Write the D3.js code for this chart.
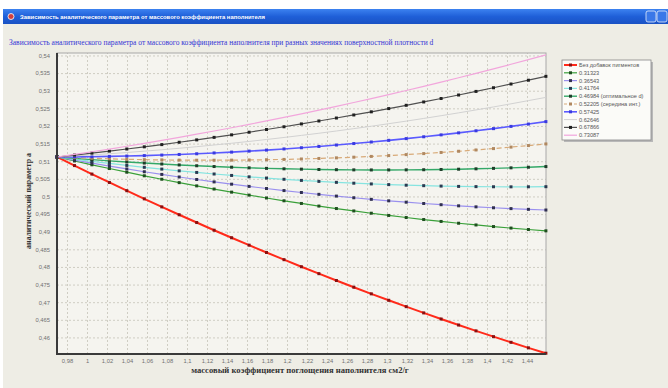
<!DOCTYPE html>
<html><head><meta charset="utf-8">
<script src="https://cdn.jsdelivr.net/npm/d3@7"></script>
<style>body{margin:0;background:#fff;}svg{display:block;}</style>
</head><body>
<svg id="c" width="668" height="388"></svg>
<script>
const windowTitle = "Зависимость аналитического параметра от массового коэффициента наполнителя";
const chartTitle = "Зависимость аналитического параметра от массового коэффициента наполнителя при разных значениях поверхностной плотности d";
const xTitle = "массовый коэффициент поглощения наполнителя см2/г";
const yTitle = "аналитический параметр a";

const xTicks = [0.98,1,1.02,1.04,1.06,1.08,1.1,1.12,1.14,1.16,1.18,1.2,1.22,1.24,1.26,1.28,1.3,1.32,1.34,1.36,1.38,1.4,1.42,1.44];
const yTicks = [0.46,0.465,0.47,0.475,0.48,0.485,0.49,0.495,0.5,0.505,0.51,0.515,0.52,0.525,0.53,0.535,0.54];

const xValues = [0.9700,0.9875,1.0049,1.0224,1.0398,1.0573,1.0748,1.0922,1.1097,1.1271,1.1446,1.1621,1.1795,1.1970,1.2144,1.2319,1.2494,1.2668,1.2843,1.3017,1.3192,1.3367,1.3541,1.3716,1.3890,1.4065,1.4240,1.4414,1.4589];

const legendNames = ["Без добавок пигментов","0.31323","0.36543","0.41764","0.46984 (оптимальное d)","0.52205 (середина инт.)","0.57425","0.62646","0.67866","0.73087"];

const noPigment = [0.51120,0.50876,0.50635,0.50397,0.50163,0.49932,0.49704,0.49480,0.49260,0.49042,0.48828,0.48618,0.48410,0.48206,0.48006,0.47809,0.47615,0.47425,0.47237,0.47054,0.46873,0.46696,0.46523,0.46352,0.46186,0.46022,0.45862,0.45705,0.45552];
const d31323 = [0.51120,0.51008,0.50898,0.50792,0.50688,0.50586,0.50488,0.50392,0.50300,0.50210,0.50122,0.50038,0.49956,0.49877,0.49801,0.49727,0.49657,0.49589,0.49524,0.49461,0.49402,0.49345,0.49291,0.49240,0.49191,0.49146,0.49103,0.49062,0.49025];
const d36543 = [0.51120,0.51031,0.50945,0.50861,0.50780,0.50701,0.50625,0.50552,0.50481,0.50413,0.50348,0.50285,0.50225,0.50167,0.50112,0.50060,0.50010,0.49963,0.49918,0.49876,0.49837,0.49800,0.49766,0.49734,0.49705,0.49679,0.49655,0.49634,0.49615];
const d41764 = [0.51120,0.51056,0.50995,0.50937,0.50880,0.50827,0.50776,0.50727,0.50681,0.50637,0.50596,0.50557,0.50521,0.50487,0.50455,0.50427,0.50400,0.50376,0.50355,0.50336,0.50319,0.50306,0.50294,0.50285,0.50279,0.50275,0.50273,0.50274,0.50277];
const d46984 = [0.51120,0.51081,0.51045,0.51010,0.50978,0.50948,0.50920,0.50894,0.50871,0.50849,0.50830,0.50812,0.50797,0.50784,0.50774,0.50765,0.50759,0.50754,0.50752,0.50752,0.50754,0.50758,0.50765,0.50773,0.50784,0.50797,0.50812,0.50829,0.50848];
const d52205 = [0.51120,0.51100,0.51082,0.51067,0.51055,0.51044,0.51037,0.51031,0.51028,0.51028,0.51030,0.51035,0.51042,0.51051,0.51063,0.51078,0.51095,0.51114,0.51136,0.51160,0.51187,0.51216,0.51248,0.51282,0.51319,0.51358,0.51400,0.51444,0.51490];
const d57425 = [0.51120,0.51123,0.51128,0.51136,0.51146,0.51159,0.51174,0.51191,0.51211,0.51234,0.51258,0.51286,0.51315,0.51348,0.51382,0.51419,0.51459,0.51501,0.51545,0.51592,0.51641,0.51693,0.51747,0.51804,0.51863,0.51924,0.51988,0.52054,0.52123];
const d62646 = [0.51120,0.51148,0.51179,0.51212,0.51247,0.51285,0.51325,0.51367,0.51412,0.51460,0.51509,0.51561,0.51616,0.51673,0.51732,0.51793,0.51857,0.51924,0.51992,0.52064,0.52137,0.52213,0.52291,0.52372,0.52455,0.52540,0.52628,0.52719,0.52811];
const d67866 = [0.51120,0.51173,0.51229,0.51286,0.51346,0.51408,0.51471,0.51537,0.51605,0.51676,0.51748,0.51822,0.51899,0.51977,0.52058,0.52141,0.52225,0.52312,0.52401,0.52493,0.52586,0.52681,0.52779,0.52878,0.52980,0.53084,0.53190,0.53298,0.53408];
const d73087 = [0.51120,0.51193,0.51268,0.51345,0.51425,0.51506,0.51591,0.51677,0.51766,0.51856,0.51950,0.52045,0.52143,0.52243,0.52345,0.52450,0.52556,0.52666,0.52777,0.52890,0.53006,0.53125,0.53245,0.53368,0.53493,0.53620,0.53750,0.53881,0.54016];

const seriesData = [noPigment,d31323,d36543,d41764,d46984,d52205,d57425,d62646,d67866,d73087];
const styles = [
  {color:"#ff2a1a", width:2, dash:null, marker:"#8a1010"},
  {color:"#3aa03a", width:1.2, dash:null, marker:"#1f4f1f"},
  {color:"#9a90ee", width:1.2, dash:null, marker:"#303050"},
  {color:"#86e4e0", width:1.2, dash:null, marker:"#2a3a50"},
  {color:"#34a868", width:1.4, dash:null, marker:"#1e3e2a"},
  {color:"#d8aa78", width:1.2, dash:"5,3", marker:"#b08860"},
  {color:"#5a5aff", width:1.6, dash:null, marker:"#3a3ae0"},
  {color:"#d2d2d2", width:1, dash:null, marker:null},
  {color:"#505050", width:1.2, dash:null, marker:"#202020"},
  {color:"#f2a6dc", width:1.2, dash:null, marker:null}
];

const svg = d3.select("#c");
// window
svg.append("rect").attr("x",3).attr("y",9).attr("width",665).attr("height",379).attr("fill","#eeede5");
const grad = svg.append("defs").append("linearGradient").attr("id","tb").attr("x1",0).attr("x2",0).attr("y1",0).attr("y2",1);
grad.append("stop").attr("offset","0").attr("stop-color","#3c82f0");
grad.append("stop").attr("offset","0.5").attr("stop-color","#1f5fd8");
grad.append("stop").attr("offset","1").attr("stop-color","#1a52c4");
svg.append("rect").attr("x",3).attr("y",9).attr("width",665).attr("height",15).attr("fill","url(#tb)");
svg.append("circle").attr("cx",11).attr("cy",16.5).attr("r",3).attr("fill","#d04040").attr("stroke","#fff").attr("stroke-width",0.8);
svg.append("text").attr("x",20).attr("y",19).attr("fill","#fff").attr("font-family","Liberation Sans, Arial, sans-serif")
  .attr("font-size",5.9).attr("font-weight","bold").text(windowTitle);
[646,657].forEach(bx=>{
  svg.append("rect").attr("x",bx).attr("y",11).attr("width",10).attr("height",11).attr("rx",2).attr("fill","#3a78e8").attr("stroke","#fff").attr("stroke-width",0.7);
});

// chart title
svg.append("text").attr("x",9).attr("y",45).attr("fill","#3535d5").attr("font-family","Liberation Serif, Times New Roman, serif")
  .attr("font-size",7.5).text(chartTitle);

const L=57,R=546,T=53,B=354;
const x = d3.scaleLinear().domain([0.97,1.459]).range([L,R]);
const y = d3.scaleLinear().domain([0.4553,0.5407]).range([B,T]);
const fmt = d => String(+d.toFixed(3)).replace(".",",");

svg.append("rect").attr("x",L).attr("y",T).attr("width",R-L).attr("height",B-T).attr("fill","#f5f4ef");

// grid
const gx = svg.append("g").attr("transform",`translate(0,${B})`)
  .call(d3.axisBottom(x).tickValues(xTicks).tickSize(-(B-T)).tickFormat(""));
gx.select(".domain").remove();
gx.selectAll("line").attr("stroke","#cfcdc3").attr("stroke-dasharray","2,2");
const gy = svg.append("g").attr("transform",`translate(${L},0)`)
  .call(d3.axisLeft(y).tickValues(yTicks).tickSize(-(R-L)).tickFormat(""));
gy.select(".domain").remove();
gy.selectAll("line").attr("stroke","#cfcdc3").attr("stroke-dasharray","2,2");

// frame
svg.append("rect").attr("x",L).attr("y",T).attr("width",R-L).attr("height",B-T).attr("fill","none").attr("stroke","#a8a8a8").attr("stroke-width",1);

// axes labels
const ax = svg.append("g").attr("transform",`translate(0,${B})`)
  .call(d3.axisBottom(x).tickValues(xTicks).tickSize(0).tickPadding(5).tickFormat(fmt));
ax.select(".domain").remove();
ax.selectAll("text").attr("fill","#707070").attr("font-size",5.8).attr("font-family","Liberation Sans, Arial, sans-serif");
const ay = svg.append("g").attr("transform",`translate(${L},0)`)
  .call(d3.axisLeft(y).tickValues(yTicks).tickSize(0).tickPadding(7).tickFormat(fmt));
ay.select(".domain").remove();
ay.selectAll("text").attr("fill","#707070").attr("font-size",5.8).attr("font-family","Liberation Sans, Arial, sans-serif");

// series
const line = d3.line().x((d,i)=>x(xValues[i])).y(d=>y(d));
seriesData.forEach((s,k)=>{
  const st = styles[k];
  svg.append("path").datum(s).attr("d",line).attr("fill","none").attr("stroke",st.color)
    .attr("stroke-width",st.width).attr("stroke-dasharray",st.dash);
  if(st.marker){
    svg.append("g").selectAll("rect").data(s).join("rect")
      .attr("x",(d,i)=>x(xValues[i])-1.5).attr("y",d=>y(d)-1.5).attr("width",3).attr("height",3).attr("fill",st.marker);
  }
});

// axis lines (dark left & bottom)
svg.append("line").attr("x1",L).attr("x2",L).attr("y1",T).attr("y2",B+1).attr("stroke","#3a3a3a").attr("stroke-width",2);
svg.append("line").attr("x1",L-1).attr("x2",R).attr("y1",B).attr("y2",B).attr("stroke","#3a3a3a").attr("stroke-width",2);

// axis titles
svg.append("text").attr("x",300).attr("y",373).attr("text-anchor","middle").attr("fill","#333")
  .attr("font-family","Liberation Serif, Times New Roman, serif").attr("font-size",8.6).attr("font-weight","bold").text(xTitle);
svg.append("text").attr("transform",`translate(31,201) rotate(-90)`).attr("text-anchor","middle").attr("fill","#333")
  .attr("font-family","Liberation Serif, Times New Roman, serif").attr("font-size",7.8).attr("font-weight","bold").text(yTitle);

// legend
const lg = svg.append("g");
lg.append("rect").attr("x",564).attr("y",62).attr("width",89).attr("height",80).attr("fill","#b8b8b8");
lg.append("rect").attr("x",562).attr("y",60).attr("width",89).attr("height",80).attr("fill","#fbfbf8").attr("stroke","#888").attr("stroke-width",0.8);
legendNames.forEach((n,k)=>{
  const st = styles[k], yy = 65 + k*7.8;
  lg.append("line").attr("x1",564).attr("x2",577).attr("y1",yy).attr("y2",yy).attr("stroke",st.color)
    .attr("stroke-width",Math.max(1,st.width)).attr("stroke-dasharray",st.dash?"3,2":null);
  if(st.marker) lg.append("rect").attr("x",569).attr("y",yy-1.5).attr("width",3).attr("height",3).attr("fill",st.marker);
  lg.append("text").attr("x",579).attr("y",yy+2).attr("fill","#555").attr("font-size",5.6)
    .attr("font-family","Liberation Sans, Arial, sans-serif").text(n);
});
</script>
</body></html>
